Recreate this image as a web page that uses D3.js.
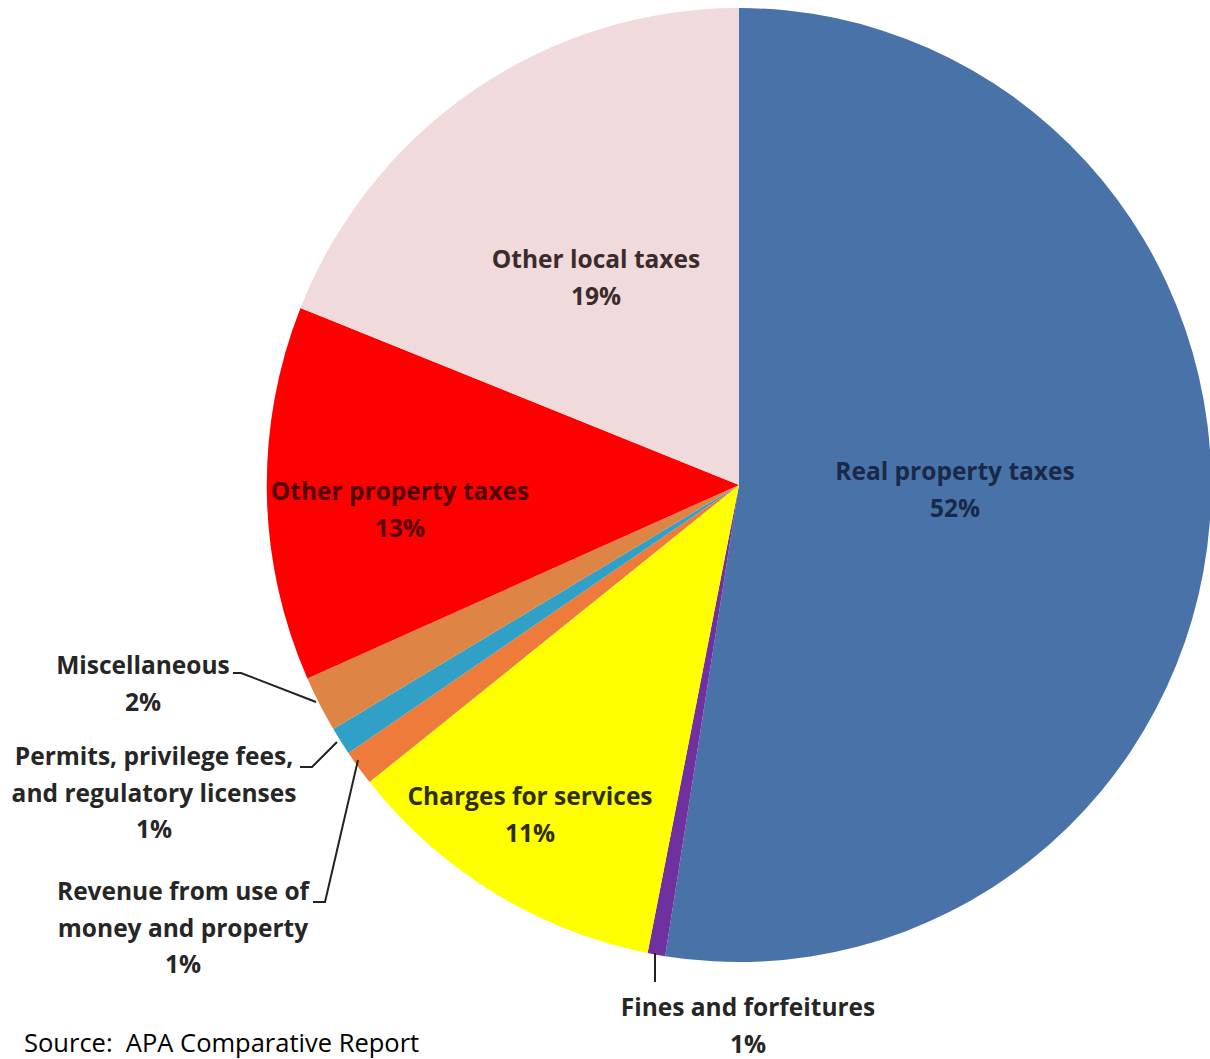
<!DOCTYPE html>
<html><head><meta charset="utf-8">
<script src="https://cdn.jsdelivr.net/npm/d3@7"></script>
<style>
html,body{margin:0;padding:0;background:#fff;}
svg{display:block;}
</style></head>
<body>
<svg id="chart" width="1210" height="1059"></svg>
<script>
// ---- data ----
const categories = [
  "Real property taxes",
  "Fines and forfeitures",
  "Charges for services",
  "Revenue from use of money and property",
  "Permits, privilege fees, and regulatory licenses",
  "Miscellaneous",
  "Other property taxes",
  "Other local taxes"
];
const values = [52.5, 0.6, 11.2, 1.2, 0.95, 1.9, 12.7, 18.95];
const percentLabels = ["52%", "1%", "11%", "1%", "1%", "2%", "13%", "19%"];
const labelLines = [
  ["Real property taxes"],
  ["Fines and forfeitures"],
  ["Charges for services"],
  ["Revenue from use of", "money and property"],
  ["Permits, privilege fees,", "and regulatory licenses"],
  ["Miscellaneous"],
  ["Other property taxes"],
  ["Other local taxes"]
];
const sliceColors = ["#4872A8", "#7030A0", "#FFFF00", "#EE7B3A", "#31A0C6", "#DE8444", "#FF0000", "#F0DADB"];
const sourceText = "Source:  APA Comparative Report";

// ---- layout ----
const cx = 739, cy = 485, r = 477, sx = 0.99;
const font = "'Open Sans', Lato, sans-serif";
const labelLayout = [
  {x: 955, y: 480, fill: "#18294a"},
  {x: 748, y: 1016, fill: "#262626"},
  {x: 530, y: 805, fill: "#2e2e00"},
  {x: 183, y: 900, fill: "#262626"},
  {x: 154, y: 765, fill: "#262626"},
  {x: 143, y: 674, fill: "#262626"},
  {x: 400, y: 500, fill: "#520000"},
  {x: 596, y: 268, fill: "#3a2b2c"}
];
const lineGap = 36.5;
const leaders = [
  null,
  [[655, 953], [655, 982]],
  null,
  [[313, 902], [325, 902], [358, 760]],
  [[300, 767], [312, 767], [337, 742]],
  [[233, 673], [241, 673], [316, 702]],
  null, null
];

const svg = d3.select("#chart");
const pie = d3.pie().sort(null).value(d => d).startAngle(0).endAngle(2 * Math.PI);
const arc = d3.arc().innerRadius(0).outerRadius(r);
const arcs = pie(values);

const g = svg.append("g").attr("transform", `translate(${cx},${cy}) scale(${sx},1)`);
g.selectAll("path").data(arcs).join("path")
  .attr("d", arc)
  .attr("fill", (d, i) => sliceColors[i]);

// leader lines
const line = d3.line();
svg.append("g").selectAll("path").data(leaders.filter(Boolean)).join("path")
  .attr("d", d => line(d))
  .attr("fill", "none")
  .attr("stroke", "#222")
  .attr("stroke-width", 2);

// labels
const lg = svg.append("g")
  .attr("font-family", font)
  .attr("font-weight", 700)
  .attr("font-size", 24.5)
  .attr("letter-spacing", 0)
  .attr("text-anchor", "middle");
categories.forEach((c, i) => {
  const L = labelLayout[i];
  const lines = labelLines[i].concat([percentLabels[i]]);
  const t = lg.append("text").attr("fill", L.fill);
  lines.forEach((s, k) => {
    t.append("tspan").attr("x", L.x).attr("y", L.y + k * lineGap).text(s);
  });
});

svg.append("text")
  .attr("x", 24).attr("y", 1052)
  .attr("font-family", "'Open Sans', sans-serif")
  .attr("font-size", 25.5)
  .attr("fill", "#000")
  .style("white-space", "pre")
  .text(sourceText);
</script>
</body></html>
